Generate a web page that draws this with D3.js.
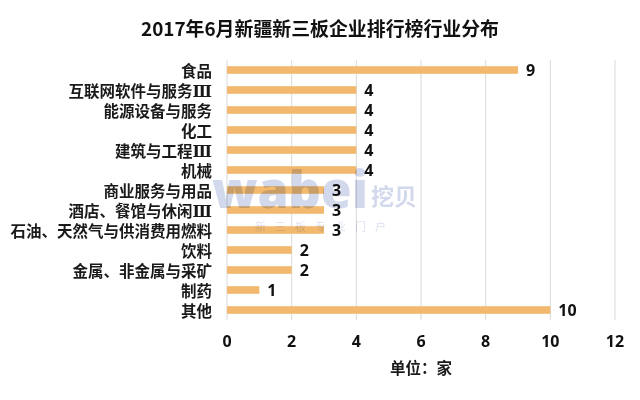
<!DOCTYPE html>
<html><head><meta charset="utf-8">
<script src="https://cdnjs.cloudflare.com/ajax/libs/d3/7.8.5/d3.min.js"></script>
<style>html,body{margin:0;background:#fff}svg{display:block}</style></head>
<body><script>
const categories=["食品","互联网软件与服务Ⅲ","能源设备与服务","化工","建筑与工程Ⅲ","机械","商业服务与用品","酒店、餐馆与休闲Ⅲ","石油、天然气与供消费用燃料","饮料","金属、非金属与采矿","制药","其他"];
const values=[9,4,4,4,4,4,3,3,3,2,2,1,10];
const xTicks=[0,2,4,6,8,10,12];
const titleText="2017年6月新疆新三板企业排行榜行业分布";
const unitText="单位：家";
const cjk='"Noto Sans CJK SC","DejaVu Sans",sans-serif';
const latin='"Open Sans","Noto Sans CJK SC",sans-serif';
const svg=d3.select("body").append("svg").attr("width",640).attr("height",400);
const x=d3.scaleLinear().domain([0,12]).range([227,615]);
const y=d3.scaleBand().domain(categories).range([60,320]).paddingInner(0.62).paddingOuter(0.31);
svg.append("g").selectAll("line").data(xTicks).join("line")
 .attr("x1",d=>x(d)).attr("x2",d=>x(d)).attr("y1",60).attr("y2",320)
 .attr("stroke","#d9d9d9").attr("stroke-width",1);
svg.append("g").selectAll("rect").data(values).join("rect")
 .attr("x",x(0)).attr("y",(d,i)=>y(categories[i])).attr("width",d=>x(d)-x(0)).attr("height",y.bandwidth())
 .attr("fill","#f2b96e");
// watermark
const wm=svg.append("g").attr("fill","#d3d9ec").style("mix-blend-mode","multiply");
wm.append("text").attr("x",212).attr("y",208).attr("font-family",'"Open Sans",sans-serif').attr("font-weight",800).attr("font-size",52).attr("textLength",156).attr("lengthAdjust","spacingAndGlyphs").text("wabei");
wm.append("text").attr("x",371).attr("y",205).attr("font-family",cjk).attr("font-weight",700).attr("font-size",23).text("挖贝");
wm.append("text").attr("x",255).attr("y",231).attr("font-family",cjk).attr("font-size",11).attr("letter-spacing",9).attr("opacity",.75).text("新三板专业门户");
const labels=svg.append("g").selectAll("text").data(categories).join("text")
 .attr("x",212).attr("y",d=>y(d)+y.bandwidth()/2+1).attr("dy","0.36em").attr("text-anchor","end")
 .attr("font-family",cjk).attr("font-weight",700).attr("font-size",15.5).attr("fill","#1a1a1a");
labels.each(function(d){
  const t=d3.select(this), hasRoman=d.endsWith("Ⅲ");
  t.append("tspan").text(hasRoman?d.slice(0,-1):d);
  if(hasRoman) t.append("tspan").attr("font-family",'"DejaVu Serif",serif').attr("font-size",16).text("Ⅲ");
});
svg.append("g").selectAll("text").data(values).join("text")
 .attr("x",d=>x(d)+8).attr("y",(d,i)=>y(categories[i])+y.bandwidth()/2).attr("dy","0.36em")
 .attr("font-family",latin).attr("font-weight",700).attr("font-size",16).attr("fill","#111").text(d=>d);
svg.append("g").selectAll("text").data(xTicks).join("text")
 .attr("x",d=>x(d)).attr("y",347).attr("text-anchor","middle")
 .attr("font-family",latin).attr("font-weight",700).attr("font-size",16).attr("fill","#111").text(d=>d);
svg.append("text").attr("x",421).attr("y",374).attr("text-anchor","middle").attr("font-family",cjk).attr("font-weight",700).attr("font-size",15.5).attr("fill","#1a1a1a").text(unitText);
svg.append("text").attr("x",320).attr("y",36).attr("text-anchor","middle").attr("font-family",cjk).attr("font-weight",700).attr("font-size",18.9).attr("fill","#111").text(titleText);
</script></body></html>
